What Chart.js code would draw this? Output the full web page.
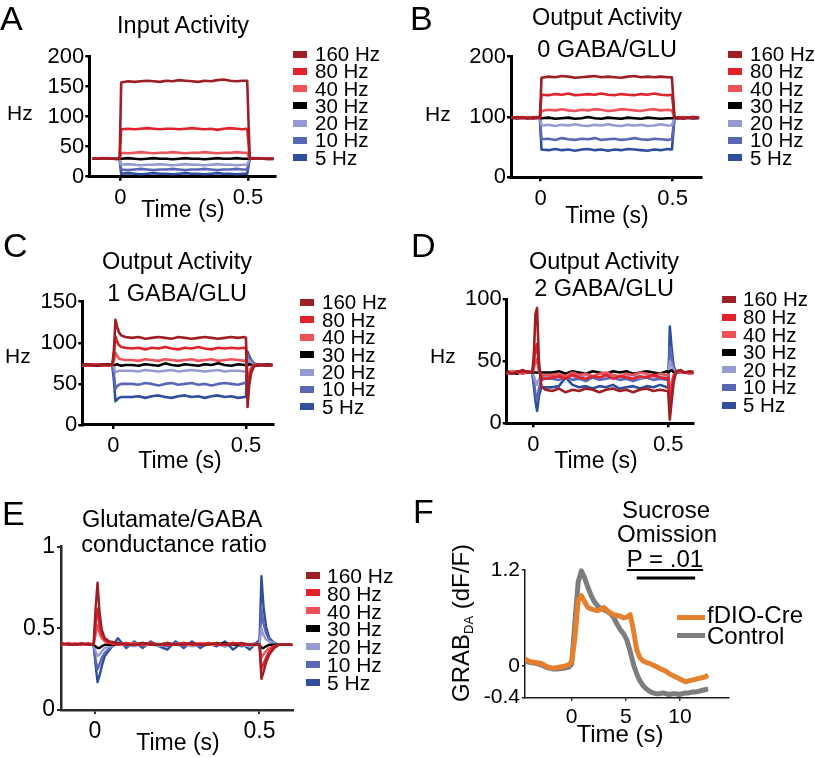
<!DOCTYPE html>
<html>
<head>
<meta charset="utf-8">
<script src="https://cdn.jsdelivr.net/npm/chart.js@4.4.0/dist/chart.umd.min.js"></script>
<style>
  body { margin: 0; background: #fff; }
  #fig { position: relative; width: 815px; height: 758px; overflow: hidden; background: #fff;
         font-family: "Liberation Sans", Arial, Helvetica, sans-serif; color: #000; }
  #fig canvas { position: absolute; left: 0; top: 0; }
  .t { position: absolute; white-space: nowrap; line-height: 1; }
  .mk { position: absolute; width: 14px; height: 7px; }
</style>
</head>
<body>
<div id="fig">
  <canvas id="cA" width="815" height="758"></canvas>
  <canvas id="cB" width="815" height="758"></canvas>
  <canvas id="cC" width="815" height="758"></canvas>
  <canvas id="cD" width="815" height="758"></canvas>
  <canvas id="cE" width="815" height="758"></canvas>
  <canvas id="cF" width="815" height="758"></canvas>
</div>
<script>
// ---- data ----
const hzLabels = ['160 Hz', '80 Hz', '40 Hz', '30 Hz', '20 Hz', '10 Hz', '5 Hz'];
const hzColors = ['#9e1f25', '#e2222b', '#ec5257', '#000000', '#959bd0', '#5967b5', '#2f4e9e'];

// time base for the step panels (A, B)
const tAB = [-0.11, -0.09, -0.07, -0.05, -0.03, -0.015, -0.003,
  0.003, 0.03, 0.055, 0.08, 0.105, 0.13, 0.155, 0.18, 0.205, 0.23, 0.255, 0.28, 0.305, 0.33, 0.355, 0.38, 0.405, 0.43, 0.455, 0.48, 0.497,
  0.507, 0.52, 0.54, 0.56, 0.58, 0.6];

// A: input activity
const a160 = [30,30,31,30,30,29,30, 157,159,158,159,160,159,158,160,159,161,160,159,158,160,159,161,162,160,159,160,160, 30,30,31,30,29,30];
const a80  = [30,30,30,31,30,30,30, 79,80,79,80,81,80,79,80,80,79,80,81,80,79,80,78,80,81,80,79,80, 30,31,30,30,30,29];
const a40  = [30,30,30,30,30,30,30, 40,39,40,41,40,39,40,40,41,40,39,40,40,41,40,39,40,40,41,40,40, 30,30,30,30,30,30];
const a30  = [30,30,30,30,30,30,30, 30,31,30,29,30,31,30,30,29,30,31,30,30,29,30,31,30,30,31,30,30, 30,30,30,30,30,30];
const a20  = [30,30,30,30,30,30,30, 20,21,20,19,20,20,21,20,19,20,21,20,20,19,20,21,20,20,19,20,20, 30,30,30,30,30,30];
const a10  = [30,30,30,30,30,30,30, 12,11,12,13,12,11,12,12,13,12,11,12,12,13,12,11,12,12,13,12,12, 30,30,30,30,30,30];
const a5   = [30,30,30,30,30,30,30, 5,6,5,4,5,6,5,5,4,5,6,5,5,4,5,6,5,5,4,5,5, 30,30,30,30,30,30];

// B: output activity, 0 GABA/GLU
const b160 = [98,100,99,97,99,100,98, 165,167,166,168,167,165,166,167,168,166,167,166,165,167,168,166,167,166,167,166,166, 98,99,97,99,100,98];
const b80  = [99,98,100,99,98,99,99, 137,136,138,137,139,136,137,138,137,139,137,136,138,137,136,138,137,139,137,136,137, 99,98,100,98,99,99];
const b40  = [99,99,98,100,99,98,99, 110,112,111,113,111,110,112,111,113,112,110,111,113,112,111,110,112,113,111,112,111, 99,99,98,99,100,99];
const b30  = [99,98,99,99,98,99,99, 98,99,97,98,99,97,98,100,98,97,99,98,97,99,98,97,99,98,97,98,98, 99,98,99,99,98,99];
const b20  = [99,99,98,99,99,98,99, 86,87,85,87,86,88,86,85,87,86,88,86,85,87,86,87,85,86,88,86,86, 99,99,98,99,99,98];
const b10  = [99,98,99,99,98,99,99, 63,64,62,65,63,62,64,63,65,62,63,64,62,63,65,63,62,64,63,62,63, 99,99,98,99,98,99];
const b5   = [99,99,98,99,99,98,99, 46,45,47,45,46,44,46,47,45,46,44,46,45,47,46,45,44,46,45,47,46, 99,98,99,99,98,99];

// time base for the transient panels (C, D, E)
const tCDE = [-0.12, -0.1, -0.08, -0.06, -0.04, -0.02, -0.004,
  0.002, 0.008, 0.014, 0.021, 0.03, 0.045,
  0.07, 0.095, 0.12, 0.145, 0.17, 0.195, 0.22, 0.245, 0.27, 0.295, 0.32, 0.345, 0.37, 0.395, 0.42, 0.445, 0.47, 0.495,
  0.5, 0.506, 0.512, 0.52, 0.53, 0.545, 0.56, 0.58, 0.6];

// C: output activity, 1 GABA/GLU
const c160 = [73,74,72,73,74,73,73, 90,128,120,113,109,107, 106,107,105,106,107,106,105,107,106,105,106,107,106,105,106,107,106,107, 106,22,48,64,71,74,73,72,73];
const c80  = [73,72,74,73,72,73,73, 85,108,102,97,95,94, 93,94,92,94,93,95,93,92,94,93,95,93,92,94,93,94,93,94, 94,34,56,67,72,74,73,73,72];
const c40  = [73,73,72,74,73,72,73, 78,88,84,81,80,79, 79,78,80,79,78,80,79,78,79,80,78,79,80,78,79,80,79,78, 79,52,64,70,73,73,72,73,73];
const c30  = [73,74,73,72,73,74,73, 73,73,74,73,72,73, 73,72,74,73,72,75,73,72,74,73,72,74,73,75,73,72,74,73, 73,73,74,73,73,72,73,74,73];
const c20  = [73,73,74,73,72,73,73, 70,64,65,66,66,66, 66,65,67,66,65,66,67,65,66,67,66,65,66,67,65,66,66,65, 65,80,78,76,74,73,73,73,73];
const c10  = [73,72,73,74,73,73,73, 62,44,47,49,50,50, 50,49,51,50,48,50,51,49,50,51,49,50,48,50,51,50,49,51, 50,86,82,78,75,73,73,73,73];
const c5   = [73,73,72,73,74,73,73, 55,29,31,33,34,34, 34,35,33,35,36,34,33,35,36,34,35,33,35,36,34,35,33,34, 34,89,84,79,75,73,73,73,73];

// D: output activity, 2 GABA/GLU
const d160 = [41,42,40,41,43,41,41, 55,88,93,50,30,27, 26,28,25,27,26,28,27,25,27,28,26,27,25,27,28,26,27,26, 26,3,16,33,42,43,41,42,41];
const d80  = [42,41,40,42,41,42,41, 48,60,64,44,37,36, 37,38,36,39,37,36,38,37,39,36,38,37,36,38,37,39,37,36, 37,10,24,37,42,42,41,41,42];
const d40  = [41,40,42,41,40,41,41, 44,50,52,42,39,39, 39,40,38,41,39,40,38,40,41,39,38,40,39,41,40,38,40,39, 39,24,32,39,42,41,41,40,41];
const d30  = [41,42,41,40,42,41,41, 41,41,41,41,41,41, 41,42,40,42,41,40,42,41,40,42,41,42,40,41,42,41,40,42, 41,42,43,41,41,42,41,41,40];
const d20  = [41,41,40,41,42,41,41, 38,34,31,36,38,38, 38,37,39,38,37,39,38,37,38,39,37,38,39,37,38,38,37,38, 38,50,47,43,41,41,41,41,41];
const d10  = [41,40,41,42,41,41,41, 34,24,18,28,35,36, 36,35,37,35,36,34,37,35,36,37,35,36,34,36,37,35,36,35, 36,62,55,45,41,41,41,41,41];
const d5   = [41,41,40,41,41,42,41, 30,18,10,22,29,29, 29,30,37,31,29,30,28,30,29,31,28,29,30,28,30,29,31,29, 29,78,62,46,41,42,41,41,41];

// E: glutamate/GABA conductance ratio
const e160 = [.40,.41,.40,.40,.41,.40,.40, .62,.78,.60,.49,.44,.42, .41,.40,.40,.41,.40,.40,.41,.40,.40,.41,.40,.40,.41,.40,.40,.41,.40,.40, .40,.19,.23,.29,.34,.38,.40,.40,.40];
const e80  = [.40,.40,.41,.40,.40,.41,.40, .52,.62,.52,.46,.43,.41, .40,.41,.40,.40,.41,.40,.40,.40,.41,.40,.40,.41,.40,.40,.41,.40,.40,.40, .40,.25,.28,.32,.36,.39,.40,.40,.40];
const e40  = [.40,.40,.40,.41,.40,.40,.40, .46,.52,.47,.44,.42,.41, .40,.40,.41,.40,.40,.40,.41,.40,.40,.40,.41,.40,.40,.40,.41,.40,.40,.40, .40,.32,.34,.36,.38,.39,.40,.40,.40];
const e30  = [.40,.40,.40,.40,.40,.40,.40, .39,.38,.38,.39,.40,.40, .40,.40,.40,.41,.40,.40,.40,.40,.41,.40,.40,.40,.40,.41,.40,.40,.40,.40, .40,.38,.38,.39,.40,.40,.40,.40,.40];
const e20  = [.40,.40,.40,.40,.40,.40,.40, .36,.33,.34,.36,.38,.39, .41,.40,.39,.41,.40,.39,.41,.40,.41,.39,.40,.41,.40,.39,.41,.40,.39,.40, .40,.50,.46,.43,.42,.41,.40,.40,.40];
const e10  = [.40,.40,.40,.40,.40,.40,.40, .31,.25,.28,.32,.35,.38, .41,.39,.41,.39,.41,.40,.39,.41,.39,.41,.39,.40,.41,.39,.41,.39,.40,.41, .40,.62,.53,.47,.43,.41,.40,.40,.40];
const e5   = [.40,.40,.40,.40,.40,.40,.40, .28,.17,.21,.27,.33,.37, .44,.38,.42,.38,.42,.39,.37,.42,.38,.42,.38,.41,.39,.42,.37,.41,.37,.42, .40,.82,.64,.51,.44,.41,.40,.40,.40];

// F: GRAB-DA photometry, sucrose omission
const tF = [-4.3, -3.8, -3.3, -2.8, -2.3, -1.8, -1.3, -0.8, -0.3,
  0, 0.3, 0.6, 0.9, 1.2, 1.5, 1.8, 2.1, 2.4, 2.7, 3.0, 3.3, 3.6, 3.9, 4.2, 4.5, 4.8, 5.1, 5.4, 5.7, 6.0,
  6.3, 6.6, 6.9, 7.2, 7.5, 7.8, 8.1, 8.4, 8.7, 9.0, 9.3, 9.6, 9.9, 10.2, 10.5, 10.8, 11.1, 11.4, 11.7, 12.0, 12.3, 12.6];
const fCre = [0.08,0.05,0.04,0.03,-0.01,-0.03,-0.02,-0.01,0.01,
  0.05,0.35,0.82,0.88,0.80,0.73,0.71,0.70,0.69,0.71,0.73,0.69,0.66,0.64,0.63,0.62,0.60,0.61,0.64,0.45,0.20,
  0.10,0.06,0.04,0.03,0.01,-0.01,-0.03,-0.05,-0.07,-0.10,-0.12,-0.14,-0.16,-0.18,-0.20,-0.19,-0.18,-0.17,-0.16,-0.15,-0.14,-0.12];
const fCtrl = [0.06,0.04,0.03,0.01,-0.02,-0.04,-0.04,-0.03,-0.02,
  0.02,0.55,1.05,1.19,1.10,0.98,0.88,0.80,0.75,0.72,0.70,0.68,0.65,0.60,0.52,0.45,0.40,0.32,0.18,0.02,-0.10,
  -0.19,-0.25,-0.29,-0.32,-0.34,-0.35,-0.35,-0.34,-0.35,-0.36,-0.35,-0.35,-0.36,-0.35,-0.34,-0.34,-0.33,-0.33,-0.32,-0.31,-0.30,-0.29];
const sigX = [6.0, 11.4];
const sigY = [1.1, 1.1];

// tick values
const ticksTime = [0, 0.5];
const ticksA = [0, 50, 100, 150, 200];
const ticksB = [0, 100, 200];
const ticksC = [0, 50, 100, 150];
const ticksD = [0, 50, 100];
const ticksE = [0, 0.5, 1];
const ticksFx = [0, 5, 10];
const ticksFy = [-0.4, 0, 1.2];

// ---- drawing ----
const FONT = '"Liberation Sans", Arial, Helvetica, sans-serif';
const W = 815, H = 758;
const AXW = 55, AXH = 40;   // fixed room kept for tick labels
const fig = document.getElementById('fig');

function series(t, v, color, width) {
  return {
    data: t.map((x, i) => ({ x: x, y: v[i] })),
    borderColor: color, borderWidth: width, pointRadius: 0, fill: false,
    borderJoinStyle: 'round', clip: { left: 0, right: 0, top: 8, bottom: 8 }
  };
}

function axis(dir, range, ticks, st) {
  return {
    type: 'linear', min: range[0], max: range[1],
    afterBuildTicks: s => { s.ticks = ticks.map(v => ({ value: v })); },
    afterFit: s => {
      if (dir === 'x') s.height = AXH; else s.width = AXW;
      s.paddingLeft = 0; s.paddingRight = 0; s.paddingTop = 0; s.paddingBottom = 0;
    },
    ticks: {
      color: '#000', font: { family: FONT, size: st.tick },
      padding: dir === 'x' ? st.xpad : st.ypad,
      maxRotation: 0, autoSkip: false, callback: v => String(v)
    },
    grid: { drawOnChartArea: false, color: st.axis, lineWidth: st.tw, tickLength: dir === 'x' ? st.xtl : st.ytl },
    border: { color: st.axis, width: st.aw }
  };
}

// area = [left, top, right, bottom] of the plotting box on the page
function plot(id, area, xr, yr, xt, yt, datasets, st) {
  return new Chart(document.getElementById(id), {
    type: 'line',
    data: { datasets: datasets },
    options: {
      responsive: false, animation: false, devicePixelRatio: 1, events: [],
      layout: { padding: { left: area[0] - AXW, top: area[1], right: W - area[2], bottom: H - area[3] - AXH } },
      plugins: { legend: { display: false }, tooltip: { enabled: false } },
      scales: { x: axis('x', xr, xt, st), y: axis('y', yr, yt, st) }
    }
  });
}

function hzSets(t, arrs, width) {
  return arrs.map((v, i) => series(t, v, hzColors[i], width));
}

const stAD = { tick: 22, xpad: 4, ypad: 1, xtl: 4, ytl: 4, aw: 3, tw: 2.5, axis: '#000' };
const stE = { tick: 23, xpad: 4, ypad: 2, xtl: 4, ytl: 4, aw: 2.5, tw: 2, axis: '#2a2a2a' };
const stF = { tick: 21, xpad: 4, ypad: 2, xtl: 3, ytl: 3, aw: 1.5, tw: 1.5, axis: '#1a1a1a' };

plot('cA', [89.3, 56.7, 275, 176.7], [-0.122, 0.606], [0, 200], ticksTime, ticksA,
  hzSets(tAB, [a160, a80, a40, a30, a20, a10, a5], 2.6), stAD);
plot('cB', [511, 56.7, 701.7, 177.3], [-0.1125, 0.61], [0, 200], ticksTime, ticksB,
  hzSets(tAB, [b160, b80, b40, b30, b20, b10, b5], 2.6), stAD);
plot('cC', [82.3, 301.7, 273.3, 425], [-0.117, 0.603], [0, 150], ticksTime, ticksC,
  hzSets(tCDE, [c160, c80, c40, c30, c20, c10, c5], 2.6), stAD);
plot('cD', [506.7, 299.3, 693.3, 423.3], [-0.0985, 0.593], [0, 100], ticksTime, ticksD,
  hzSets(tCDE, [d160, d80, d40, d30, d20, d10, d5], 2.6), stAD);
plot('cE', [61, 546.7, 292.7, 710], [-0.103, 0.601], [0, 1], ticksTime, ticksE,
  hzSets(tCDE, [e160, e80, e40, e30, e20, e10, e5], 2.4), stE);
plot('cF', [525, 570, 728.3, 697.7], [-4.31, 14.46], [-0.4, 1.2], ticksFx, ticksFy, [
  series(tF, fCre, '#e5802c', 5),
  series(tF, fCtrl, '#7d7d7d', 5),
  series(sigX, sigY, '#000000', 3)
], stF);

// ---- text ----
function addText(str, x, base, size, align) {
  const d = document.createElement('div');
  d.className = 't';
  d.textContent = str;
  d.style.fontSize = size + 'px';
  d.style.top = (base - 0.8465 * size) + 'px';
  d.style.left = x + 'px';
  if (align === 'c') d.style.transform = 'translateX(-50%)';
  fig.appendChild(d);
  return d;
}

function addLegend(mx, tx, c0, step, size, labels, colors) {
  labels.forEach((lab, i) => {
    const c = c0 + i * step;
    const m = document.createElement('div');
    m.className = 'mk';
    m.style.left = mx + 'px';
    m.style.top = (c - 3.5) + 'px';
    m.style.background = colors[i];
    fig.appendChild(m);
    addText(lab, tx, c + 0.358 * size, size, 'l');
  });
}

// panel letters
addText('A', 0, 30, 34, 'l');
addText('B', 410, 30, 34, 'l');
addText('C', 3, 257, 34, 'l');
addText('D', 411, 257, 34, 'l');
addText('E', 2, 525, 34, 'l');
addText('F', 413, 523, 34, 'l');

// A
addText('Input Activity', 183, 34, 23.5, 'c');
addText('Hz', 7, 120, 21, 'l');
addText('Time (s)', 183, 217, 23, 'c');
addLegend(293, 315, 54, 17.3, 20.5, hzLabels, hzColors);

// B
addText('Output Activity', 607, 26, 23.5, 'c');
addText('0 GABA/GLU', 607, 58, 23.5, 'c');
addText('Hz', 425, 121, 21, 'l');
addText('Time (s)', 607, 223, 23, 'c');
addLegend(728, 750, 54, 17.3, 20.5, hzLabels, hzColors);

// C
addText('Output Activity', 177, 270, 23.5, 'c');
addText('1 GABA/GLU', 177, 302, 23.5, 'c');
addText('Hz', 5, 363, 21, 'l');
addText('Time (s)', 180, 468, 23, 'c');
addLegend(300, 322, 302.5, 17.4, 20.5, hzLabels, hzColors);

// D
addText('Output Activity', 604, 270, 23.5, 'c');
addText('2 GABA/GLU', 604, 297, 23.5, 'c');
addText('Hz', 430, 363, 21, 'l');
addText('Time (s)', 596, 468, 23, 'c');
addLegend(722, 743, 299.5, 17.6, 20.5, hzLabels, hzColors);

// E
addText('Glutamate/GABA', 172, 528, 23.5, 'c');
addText('conductance ratio', 174, 553, 23.5, 'c');
addText('Time (s)', 178, 750, 23, 'c');
addLegend(306, 327, 575, 17.9, 21, hzLabels, hzColors);

// F
addText('Sucrose', 666, 518, 24, 'c');
addText('Omission', 667, 542, 24, 'c');
const pv = addText('P = .01', 665, 567, 24, 'c');
pv.style.textDecoration = 'underline';
pv.style.textUnderlineOffset = '2px';
addText('Time (s)', 620, 742, 24, 'c');
[['fDIO-Cre', '#e5802c', 617, 623], ['Control', '#7d7d7d', 635, 644]].forEach(r => {
  const m = document.createElement('div');
  m.className = 'mk';
  m.style.left = '677px'; m.style.width = '28px';
  m.style.top = (r[2] - 2.5) + 'px'; m.style.height = '5px';
  m.style.background = r[1];
  fig.appendChild(m);
  addText(r[0], 707, r[3], 24, 'l');
});
const yl = document.createElement('div');
yl.className = 't';
yl.style.fontSize = '24px';
yl.style.left = '462px';
yl.style.top = '623px';
yl.style.transform = 'translate(-50%, -50%) rotate(-90deg)';
yl.innerHTML = 'GRAB<sub style="font-size:13px;vertical-align:-4px">DA</sub> (dF/F)';
fig.appendChild(yl);
</script>
</body>
</html>
